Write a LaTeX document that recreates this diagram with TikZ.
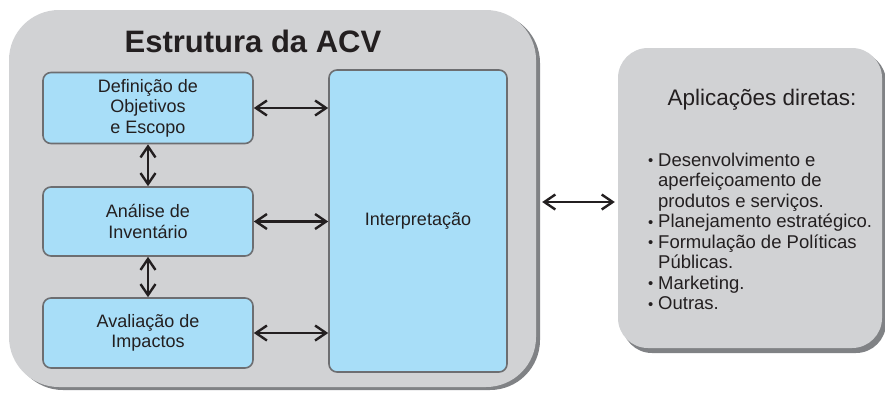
\documentclass[tikz,border=0pt]{standalone}
\usepackage{fontspec}
\setmainfont{Liberation Sans}
\usetikzlibrary{arrows.meta}
\definecolor{greybox}{HTML}{D1D2D4}
\definecolor{shadowc}{HTML}{808285}
\definecolor{bluebox}{HTML}{A8DEF8}
\definecolor{edgec}{HTML}{6D6E71}
\definecolor{inkc}{HTML}{231F20}
\newcommand{\blt}{\makebox[10pt][l]{\raisebox{0.5pt}{\scalebox{0.8}{\textbullet}}}}
\begin{document}
\begin{tikzpicture}[x=1pt,y=-1pt,
  stage/.style={draw=edgec, line width=1.6pt, fill=bluebox, rounded corners=8pt,
    minimum width=210pt, inner sep=0pt, align=center,
    font=\fontsize{18}{20.5}\selectfont, text=inkc},
  panel/.style={fill=greybox, inner sep=0pt},
  tipx/.tip={Straight Barb[length=11pt,width=15pt,line width=2.4pt]},
  arr/.style={tipx-tipx, line width=2.4pt, draw=inkc},
  listline/.style={anchor=base west, inner sep=0pt, font=\fontsize{18.5}{20.5}\selectfont, text=inkc}]
\useasboundingbox (0,0) rectangle (885,392);
% big panel
\fill[shadowc, rounded corners=50pt] (13,13) rectangle (540,390);
\node[panel, rounded corners=50pt, minimum width=527pt, minimum height=377pt] (bigbox) at (272.5,198.5) {};
\node[anchor=base, inner sep=0pt, font=\fontsize{31}{31}\selectfont\bfseries, text=inkc] (title) at (253,52) {Estrutura da ACV};
% stages
\node[stage, minimum height=71pt] (def) at (148,108) {Definição de\\Objetivos\\e Escopo};
\node[stage, minimum height=69pt] (inv) at (148,221.5) {Análise de\\Inventário};
\node[stage, minimum height=70pt] (aval) at (148,333) {Avaliação de\\Impactos};
\node[stage, minimum width=178pt, minimum height=302pt] (interp) at (418,221) {Interpretação};
% arrows inside
\draw[arr] (def.east) -- (def.east -| interp.west);
\draw[arr] (inv.east) -- (inv.east -| interp.west);
\draw[arr] (aval.east) -- (aval.east -| interp.west);
\draw[arr] (def.south) -- (inv.north);
\draw[arr] (inv.south) -- (aval.north);
% right panel
\fill[shadowc, rounded corners=30pt] (622,52) rectangle (886,353);
\node[panel, rounded corners=30pt, minimum width=264pt, minimum height=300pt] (apps) at (750,198) {};
\node[anchor=base, inner sep=0pt, font=\fontsize{22.5}{22.5}\selectfont, text=inkc] (appt) at (762,105) {Aplicações diretas:};
\node[listline] (l1) at (648,166) {\blt Desenvolvimento e};
\node[listline] (l2) at (658,186.5) {aperfeiçoamento de};
\node[listline] (l3) at (658,207) {produtos e serviços.};
\node[listline] (l4) at (648,227.5) {\blt Planejamento estratégico.};
\node[listline] (l5) at (648,248) {\blt Formulação de Políticas};
\node[listline] (l6) at (658,268.5) {Públicas.};
\node[listline] (l7) at (648,289) {\blt Marketing.};
\node[listline] (l8) at (648,309.5) {\blt Outras.};
% main connector
\coordinate (my) at (0,202);
\draw[arr, shorten <=6pt, shorten >=3pt] (bigbox.east |- my) -- (apps.west |- my);
\end{tikzpicture}
\end{document}
